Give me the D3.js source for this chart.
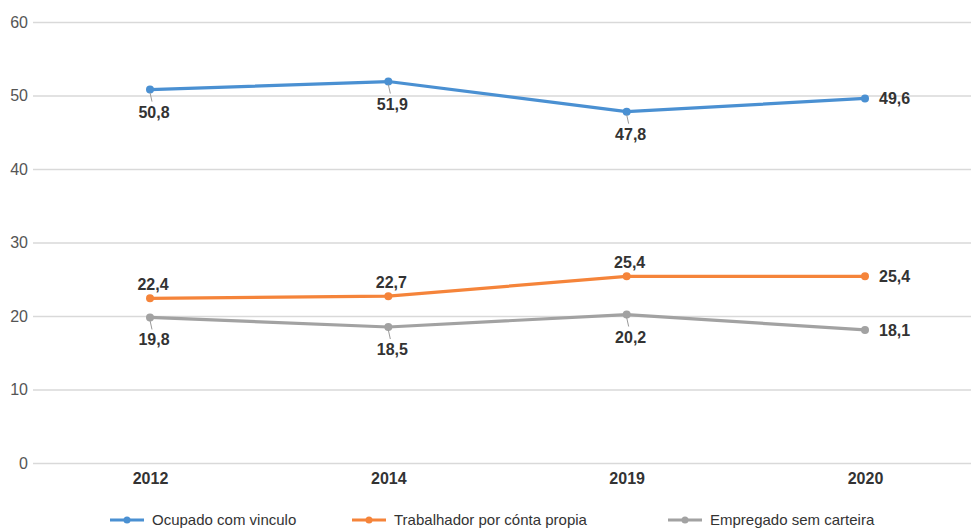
<!DOCTYPE html>
<html>
<head>
<meta charset="utf-8">
<script src="https://cdn.jsdelivr.net/npm/d3@7"></script>
<style>
  body { margin: 0; background: #fff; }
  text { font-family: "Liberation Sans Narrow", "Liberation Sans", sans-serif; }
</style>
</head>
<body>
<svg id="chart" width="971" height="529"></svg>
<script>
// data
var years = ['2012', '2014', '2019', '2020'];
var seriesNames = ['Ocupado com vinculo', 'Trabalhador por cónta propia', 'Empregado sem carteira'];
var ocupado = [50.8, 51.9, 47.8, 49.6];
var trabalhador = [22.4, 22.7, 25.4, 25.4];
var empregado = [19.8, 18.5, 20.2, 18.1];
var yTicks = [0, 10, 20, 30, 40, 50, 60];
// where each label sits relative to its point
var ocupadoPos = ['below', 'below', 'below', 'right'];
var trabalhadorPos = ['above', 'above', 'above', 'right'];
var empregadoPos = ['below', 'below', 'below', 'right'];

var colors = ['#4a90d2', '#f5843a', '#a2a2a2'];

var svg = d3.select('#chart');

var x = d3.scalePoint()
  .domain(years)
  .range([150, 865]);

var y = d3.scaleLinear()
  .domain([0, 60])
  .range([463, 22]);

// grid + y labels
var yAxis = d3.axisLeft(y)
  .tickValues(yTicks)
  .tickSize(-938)
  .tickPadding(5)
  .tickFormat(d3.format('d'));

var gy = svg.append('g')
  .attr('transform', 'translate(33,0)')
  .call(yAxis);
gy.select('.domain').remove();
gy.selectAll('.tick line').attr('stroke', '#d9d9d9').attr('stroke-width', 1.3);
gy.selectAll('.tick text')
  .attr('fill', '#555')
  .style('font-family', '"Liberation Sans", sans-serif')
  .style('font-size', '16px');

// x labels
var xAxis = d3.axisBottom(x).tickSize(0).tickPadding(10);
var gx = svg.append('g')
  .attr('transform', 'translate(0,463)')
  .call(xAxis);
gx.select('.domain').remove();
gx.selectAll('.tick text')
  .attr('fill', '#333')
  .style('font-weight', 'bold')
  .style('font-size', '16px');

var series = [
  { name: seriesNames[0], values: ocupado, pos: ocupadoPos, color: colors[0] },
  { name: seriesNames[1], values: trabalhador, pos: trabalhadorPos, color: colors[1] },
  { name: seriesNames[2], values: empregado, pos: empregadoPos, color: colors[2] }
];

var line = d3.line()
  .x(function (d, i) { return x(years[i]); })
  .y(function (d) { return y(d); });

var fmt = function (v) { return d3.format('.1f')(v).replace('.', ','); };

series.forEach(function (s) {
  var g = svg.append('g');

  g.append('path')
    .datum(s.values)
    .attr('d', line)
    .attr('fill', 'none')
    .attr('stroke', s.color)
    .attr('stroke-width', 3.2)
    .attr('stroke-linejoin', 'round');

  g.selectAll('circle')
    .data(s.values)
    .enter()
    .append('circle')
    .attr('cx', function (d, i) { return x(years[i]); })
    .attr('cy', function (d) { return y(d); })
    .attr('r', 4)
    .attr('fill', s.color);

  s.values.forEach(function (v, i) {
    var px = x(years[i]), py = y(v);
    var p = s.pos[i];
    var t = g.append('text')
      .text(fmt(v))
      .attr('fill', '#333')
      .style('font-family', '"Liberation Sans", sans-serif')
      .style('font-weight', 'bold')
      .style('font-size', '16px');
    if (p === 'right') {
      t.attr('x', px + 14).attr('y', py + 6).attr('text-anchor', 'start');
    } else if (p === 'above') {
      t.attr('x', px + 3).attr('y', py - 8).attr('text-anchor', 'middle');
    } else {
      // leader line from point to label
      g.append('line')
        .attr('x1', px).attr('y1', py + 3)
        .attr('x2', px + 2).attr('y2', py + 12)
        .attr('stroke', '#999').attr('stroke-width', 1);
      t.attr('x', px + 4).attr('y', py + 28).attr('text-anchor', 'middle');
    }
  });
});

// legend
var legendX = [110, 352, 668];
var legend = svg.append('g').attr('transform', 'translate(0,520)');
series.forEach(function (s, i) {
  var lg = legend.append('g').attr('transform', 'translate(' + legendX[i] + ',0)');
  lg.append('line')
    .attr('x1', 0).attr('x2', 34)
    .attr('y1', 0).attr('y2', 0)
    .attr('stroke', s.color).attr('stroke-width', 3.2);
  lg.append('circle').attr('cx', 17).attr('cy', 0).attr('r', 3.5).attr('fill', s.color);
  lg.append('text')
    .attr('x', 42).attr('y', 5)
    .attr('fill', '#333')
    .style('font-size', '15px')
    .text(s.name);
});
</script>
</body>
</html>
